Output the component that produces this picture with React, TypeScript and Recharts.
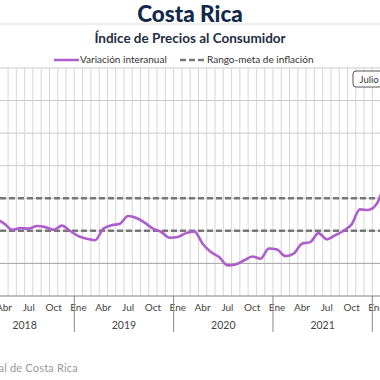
import { LineChart, Line, XAxis, YAxis, CartesianGrid, ReferenceLine } from 'recharts';

const MESES = ['Ene', 'Feb', 'Mar', 'Abr', 'May', 'Jun', 'Jul', 'Ago', 'Sep', 'Oct', 'Nov', 'Dic'];
const PRIMER_ANIO = 2018;
// primer mes de la serie (0 = enero), marzo 2018
const PRIMER_MES = 2;
// variación interanual del IPC (%), mensual desde marzo 2018
const variacionInteranual = [
  2.75, 2.46, 2.07, 2.17, 2.14, 2.3, 2.23, 2.07, 2.32, 1.99,
  1.68, 1.52, 1.42, 2.13, 2.34, 2.44, 2.91, 2.79, 2.5, 2.14, 1.93, 1.58,
  1.62, 1.86, 1.97, 1.21, 0.7, 0.39, -0.12, -0.06, 0.18, 0.43, 0.29, 0.92,
  0.85, 0.45, 0.6, 1.21, 1.31, 1.86, 1.48, 1.72, 1.99, 2.4, 3.32, 3.28,
  3.63, 4.9,
];
const rangoMeta = [2, 4];
const ticksY = [-2, 0, 2, 4, 6, 8, 10, 12];

// ventana visible del eje (en meses desde enero 2018)
const X_MIN = 3.025;
const X_MAX = 48.93;
const ANCHO = 380;
const MES_PX = ANCHO / (X_MAX - X_MIN);

const data = variacionInteranual.map((v, i) => ({ x: PRIMER_MES + i + 0.5, v }));
const lineasMes = Array.from({ length: 46 }, (_, i) => i + 3);
const ticksMes = Array.from({ length: 46 }, (_, i) => i + 3.5);

const FONT = 'Lato, "Noto Sans", sans-serif';

function TickMes(props: any) {
  const { x, y, payload } = props;
  const m = Math.round(payload.value - 0.5);
  const mes = ((m % 12) + 12) % 12;
  const anio = PRIMER_ANIO + Math.floor(m / 12);
  const borde = x - MES_PX / 2;
  return (
    <g>
      {mes % 3 === 0 && (
        <text x={x} y={y + 15} textAnchor="middle" fontSize={10} fill="#444" fontFamily={FONT}>
          {MESES[mes]}
        </text>
      )}
      {mes === 0 && <line x1={borde} x2={borde} y1={y} y2={y + 36} stroke="#888" strokeWidth={1} />}
      {mes === 6 && (
        <text x={borde} y={y + 33} textAnchor="middle" fontSize={10.5} fill="#444" fontFamily={FONT}>
          {anio}
        </text>
      )}
    </g>
  );
}

export default function App() {
  return (
    <div style={{ position: 'fixed', left: 0, top: 0, width: 380, height: 380, background: '#fff', overflow: 'hidden' }}>
      <LineChart width={ANCHO} height={380} data={data} margin={{ top: 68, right: 0, bottom: 34, left: 0 }}>
        <CartesianGrid vertical={false} stroke="#c9c9c9" />
        {lineasMes.map((g) => (
          <ReferenceLine key={g} x={g} stroke="#d6d6d6" strokeWidth={1} />
        ))}
        <ReferenceLine y={0} stroke="#aaa" strokeWidth={1} />
        <XAxis
          type="number"
          dataKey="x"
          domain={[X_MIN, X_MAX]}
          allowDataOverflow
          ticks={ticksMes}
          interval={0}
          tick={<TickMes />}
          tickLine={false}
          tickSize={0}
          tickMargin={0}
          height={50}
          axisLine={{ stroke: '#999' }}
        />
        <YAxis hide domain={[-2, 12]} ticks={ticksY} />
        {rangoMeta.map((r) => (
          <ReferenceLine key={r} y={r} stroke="#777" strokeWidth={2.5} strokeDasharray="6 3" />
        ))}
        <Line
          type="monotone"
          dataKey="v"
          stroke="#ad5dcc"
          strokeWidth={2.6}
          dot={false}
          isAnimationActive={false}
        />
      </LineChart>
      <svg width={380} height={380} style={{ position: 'absolute', left: 0, top: 0, pointerEvents: 'none' }}>
        <line x1={0} x2={380} y1={24} y2={24} stroke="#eee" strokeWidth={2} />
        <text x={190} y={22} textAnchor="middle" fontSize={22.5} fontWeight={900} fill="#12284a" fontFamily={FONT}>
          Costa Rica
        </text>
        <text x={190} y={43} textAnchor="middle" fontSize={13.5} fontWeight={700} fill="#1e2d44" fontFamily={FONT}>
          Índice de Precios al Consumidor
        </text>
        <line x1={54} x2={79} y1={60} y2={60} stroke="#ad5dcc" strokeWidth={2.5} />
        <text x={80} y={63} fontSize={10} fill="#333" fontFamily={FONT}>
          Variación interanual
        </text>
        <line x1={180} x2={205} y1={60} y2={60} stroke="#777" strokeWidth={2.5} strokeDasharray="6 3" />
        <text x={207} y={63} fontSize={10} fill="#333" fontFamily={FONT}>
          Rango-meta de inflación
        </text>
        <rect x={353} y={71} width={60} height={16} rx={3} fill="#fff" stroke="#555" strokeWidth={1} />
        <text x={359.5} y={83} fontSize={9.5} fill="#333" fontFamily={FONT}>
          Julio
        </text>
        <text x={78} y={372} textAnchor="end" fontSize={11} letterSpacing={0.2} fill="#9a9a9a" fontFamily={FONT}>
          Fuente: Banco Central de Costa Rica
        </text>
      </svg>
    </div>
  );
}
